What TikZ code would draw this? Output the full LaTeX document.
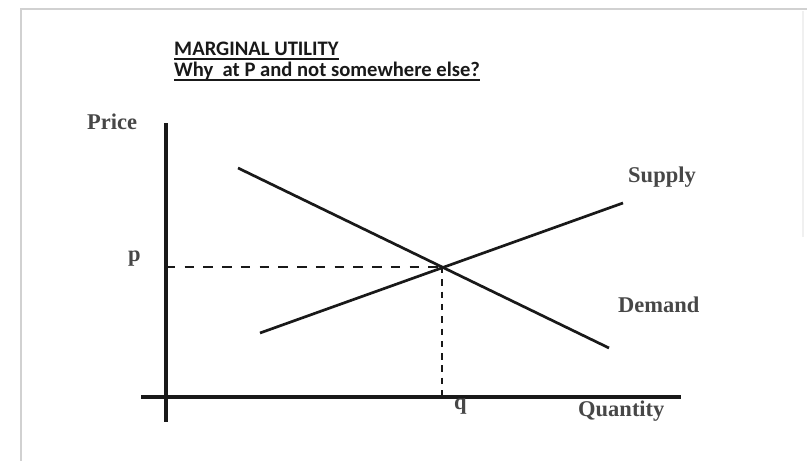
\documentclass[tikz,border=0pt]{standalone}
\usepackage{fontspec}
\setmainfont{Liberation Serif}
\newfontfamily\titlefont{Carlito}
\usetikzlibrary{positioning}

\begin{document}
\begin{tikzpicture}[
    x=0.03cm, y=-0.03cm, % one unit = one pixel of the slide
    axis/.style={line width=2.7pt, black!90},
    curve/.style={line width=2.3pt, black!90},
    guide/.style={line width=2.4pt, black!90},
    lbl/.style={font=\bfseries\fontsize{19.2}{22}\selectfont, text=black!72, inner sep=0pt, anchor=base west},
    heading/.style={font=\titlefont\bfseries\fontsize{17.6}{20}\selectfont, text=black!90, inner sep=0pt, anchor=base west},
    uline/.style={line width=1.3pt, black!90},
    frame/.style={line width=1.6pt, black!18},
]
\useasboundingbox (0,0) rectangle (807,461);

% =========================================================
% 0. Slide frame
% =========================================================
\coordinate (fr_bl) at (21,461);
\coordinate (fr_tl) at (21,9);
\coordinate (fr_tr) at (807,9);
\draw[frame] (fr_bl) -- (fr_tl) -- (fr_tr);
\draw[line width=1pt, black!6] (803,11) -- (803,237);

% =========================================================
% 1. Title
% =========================================================
\node[heading] (title1) at (174,56) {MARGINAL UTILITY};
\node[heading] (title2) at (174,77) {Why\ \ at P and not somewhere else?};
\draw[uline] ([yshift=-2.4pt]title1.base west) -- ([yshift=-2.4pt]title1.base east);
\draw[uline] ([yshift=-2.4pt]title2.base west) -- ([yshift=-2.4pt]title2.base east);

% =========================================================
% 2. Axes
% =========================================================
\coordinate (yTop) at (166,123);
\coordinate (yBot) at (166,422);
\coordinate (xLeft) at (141,397);
\coordinate (xRight) at (681,397);
\draw[axis] (yBot) -- (yTop);
\draw[axis] (xLeft) -- (xRight);

\node[lbl] (price) at (87,130) {Price};
\node[lbl] (quantity) at (578,417) {Quantity};

% =========================================================
% 3. Demand and supply
% =========================================================
\coordinate (d_start) at (238,168);
\coordinate (d_end) at (609,348);
\coordinate (s_start) at (260,333);
\coordinate (s_end) at (623,203);
\draw[curve] (d_start) -- (d_end);
\draw[curve] (s_start) -- (s_end);

\node[lbl] (supply) at (628,183) {Supply};
\node[lbl] (demand) at (618,313) {Demand};

% Equilibrium point and guides
\coordinate (eq) at (442,267);
\coordinate (eqP) at (yTop |- eq);
\coordinate (eqQ) at (eq |- xLeft);
\draw[guide, dash pattern=on 8pt off 8pt] (eqP) -- (eq);
\draw[guide, dash pattern=on 5.5pt off 5pt] (eq) -- (eqQ);

\node[lbl] (p) at (128,262) {p};
\node[lbl] (q) at (454,410) {q};

\end{tikzpicture}
\end{document}
